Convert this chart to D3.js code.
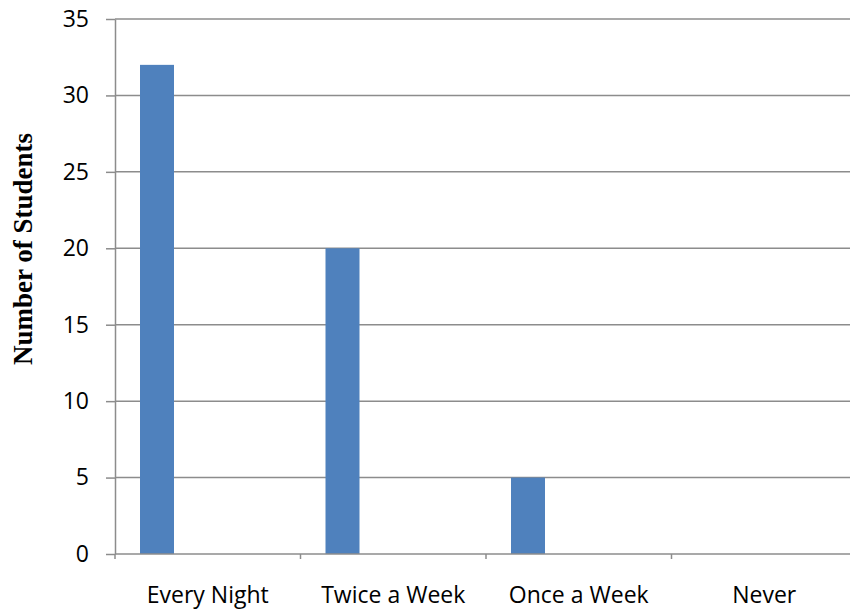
<!DOCTYPE html>
<html>
<head>
<meta charset="utf-8">
<script src="https://cdn.jsdelivr.net/npm/d3@7/dist/d3.min.js"></script>
<style>
  html, body { margin: 0; padding: 0; background: #fff; }
  svg { display: block; }
</style>
</head>
<body>
<svg id="chart" width="850" height="611"></svg>
<script>
// Survey: how often students do this activity
const categories = ["Every Night", "Twice a Week", "Once a Week", "Never"];
const studentCounts = [32, 20, 5, 0];
const yTicks = [0, 5, 10, 15, 20, 25, 30, 35];

const width = 850, height = 611;
const plot = { left: 115, right: 857, top: 19, bottom: 554 };

const svg = d3.select("#chart");

const x = d3.scaleBand()
  .domain(categories)
  .range([plot.left, plot.right])
  .paddingInner(0).paddingOuter(0);

const y = d3.scaleLinear()
  .domain([0, 35])
  .range([plot.bottom, plot.top]);

const gridColor = "#8c8c8c";
const labelFont = "'Open Sans', sans-serif";

// horizontal gridlines
svg.append("g")
  .selectAll("line")
  .data(yTicks.filter(d => d > 0))
  .join("line")
  .attr("x1", plot.left)
  .attr("x2", width)
  .attr("y1", d => y(d))
  .attr("y2", d => y(d))
  .attr("stroke", gridColor)
  .attr("stroke-width", 1.5);

// bars: sit in the left part of each category slot
const barOffset = 25, barWidth = 34;
svg.append("g")
  .selectAll("rect")
  .data(categories.map((c, i) => ({ c, v: studentCounts[i] })))
  .join("rect")
  .attr("x", d => x(d.c) + barOffset)
  .attr("width", barWidth)
  .attr("y", d => y(d.v))
  .attr("height", d => y(0) - y(d.v))
  .attr("fill", "#4f81bd");

// y axis
const yAxis = svg.append("g")
  .attr("transform", `translate(${plot.left},0)`)
  .call(d3.axisLeft(y).tickValues(yTicks).tickSize(9).tickPadding(17).tickSizeOuter(0));
yAxis.select(".domain").attr("stroke", gridColor).attr("stroke-width", 1.5);
yAxis.selectAll(".tick line").attr("stroke", gridColor).attr("stroke-width", 1.5);
yAxis.selectAll(".tick text")
  .attr("font-family", labelFont)
  .attr("font-size", 23)
  .attr("fill", "#000");

// x axis: ticks mark category boundaries
const xAxisG = svg.append("g").attr("transform", `translate(0,${plot.bottom})`);
xAxisG.append("line")
  .attr("x1", plot.left).attr("x2", width)
  .attr("y1", 0).attr("y2", 0)
  .attr("stroke", gridColor).attr("stroke-width", 1.5);
xAxisG.selectAll("line.sep")
  .data(categories)
  .join("line")
  .attr("class", "sep")
  .attr("x1", d => x(d)).attr("x2", d => x(d))
  .attr("y1", 0).attr("y2", 5)
  .attr("stroke", gridColor).attr("stroke-width", 1.5);
xAxisG.selectAll("text")
  .data(categories)
  .join("text")
  .attr("x", d => x(d) + x.bandwidth() / 2)
  .attr("y", 49)
  .attr("text-anchor", "middle")
  .attr("font-family", labelFont)
  .attr("font-size", 23)
  .attr("fill", "#000")
  .text(d => d);

// y axis title
svg.append("text")
  .attr("transform", `translate(32,${249}) rotate(-90)`)
  .attr("text-anchor", "middle")
  .attr("font-family", "'Liberation Serif', 'Times New Roman', serif")
  .attr("font-weight", "bold")
  .attr("font-size", 27)
  .attr("fill", "#000")
  .text("Number of Students");
</script>
</body>
</html>
